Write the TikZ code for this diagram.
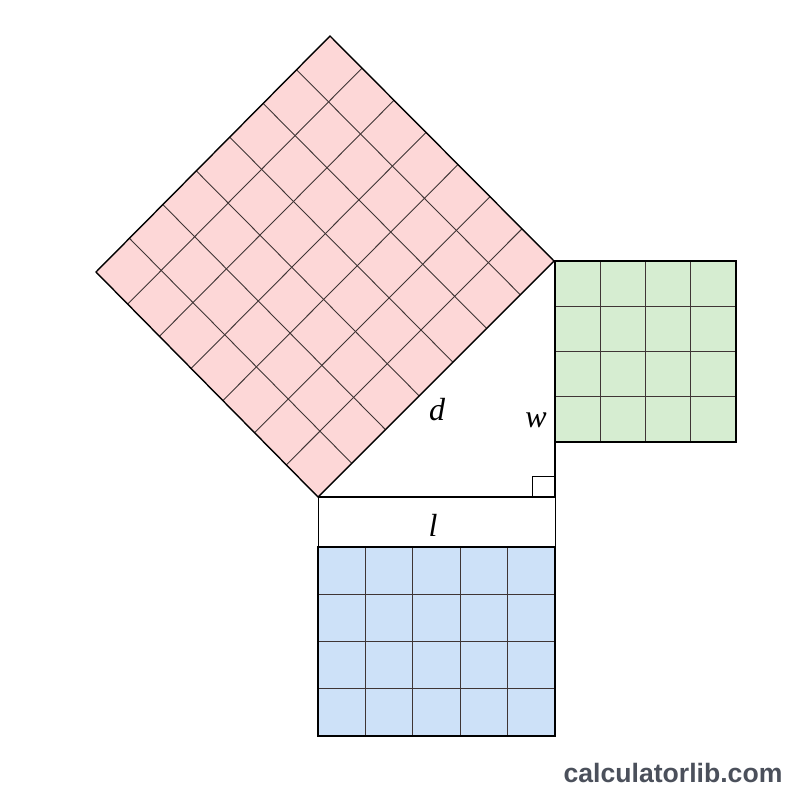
\documentclass[tikz,border=0pt]{standalone}
\usepackage{fontspec}
\newfontfamily\wmfont{Liberation Sans}
\newfontfamily\lblfont{Liberation Serif}
\usetikzlibrary{calc}
\definecolor{redfill}{HTML}{FDD7D7}
\definecolor{greenfill}{HTML}{D6EDD1}
\definecolor{bluefill}{HTML}{CDE1F8}
\definecolor{gridcol}{HTML}{3F3535}
\definecolor{wmcol}{HTML}{4B505B}
\tikzset{
  gridline/.style={draw=gridcol, line width=0.9pt},
  outline/.style={draw=black, line width=1.4pt, line join=miter},
  thinline/.style={draw=black, line width=1pt},
  lbl/.style={inner sep=0pt, font=\lblfont\itshape\fontsize{32}{36}\selectfont},
  wm/.style={inner sep=0pt, text=wmcol, font=\wmfont\bfseries\fontsize{26.6}{30}\selectfont}
}
\begin{document}
\begin{tikzpicture}[x=1pt,y=-1pt]
\useasboundingbox (0,0) rectangle (800,800);
\fill[white] (0,0) rectangle (800,800);
% red square on hypotenuse
\coordinate (A) at (318,497);
\coordinate (B) at (554,261);
\coordinate (C) at (330,36);
\coordinate (D) at (96,272);
\fill[redfill] (A)--(B)--(C)--(D)--cycle;
\foreach \i in {1,...,6} {
  \draw[gridline] ($(A)!\i/7!(B)$) -- ($(D)!\i/7!(C)$);
  \draw[gridline] ($(A)!\i/7!(D)$) -- ($(B)!\i/7!(C)$);
}
\draw[outline] (A)--(B)--(C)--(D)--cycle;
% green square
\fill[greenfill] (555,261) rectangle (736,442);
\foreach \i in {1,2,3} {
  \draw[gridline] ({555+\i*181/4},261) -- ({555+\i*181/4},442);
  \draw[gridline] (555,{261+\i*181/4}) -- (736,{261+\i*181/4});
}
\draw[outline] (555,261) rectangle (736,442);
% blue rectangle
\fill[bluefill] (318,547) rectangle (555,736);
\foreach \i in {1,...,4} {
  \draw[gridline] ({318+\i*237/5},547) -- ({318+\i*237/5},736);
}
\foreach \i in {1,2,3} {
  \draw[gridline] (318,{547+\i*189/4}) -- (555,{547+\i*189/4});
}
\draw[outline] (318,547) rectangle (555,736);
% triangle and white band
\coordinate (R) at (555,497);
\draw[outline] (A) -- (R) -- (555,261);
\draw[thinline] (318,497) rectangle (555,547);
\draw[thinline] (532,497) -- (532,476) -- (555,476);
% labels
\node[lbl] (d) at (437,410) {d};
\node[lbl] (w) at (536,420) {w};
\node[lbl] (l) at (433,525) {l};
\node[wm] (site) at (673,773) {calculatorlib.com};
\end{tikzpicture}
\end{document}
